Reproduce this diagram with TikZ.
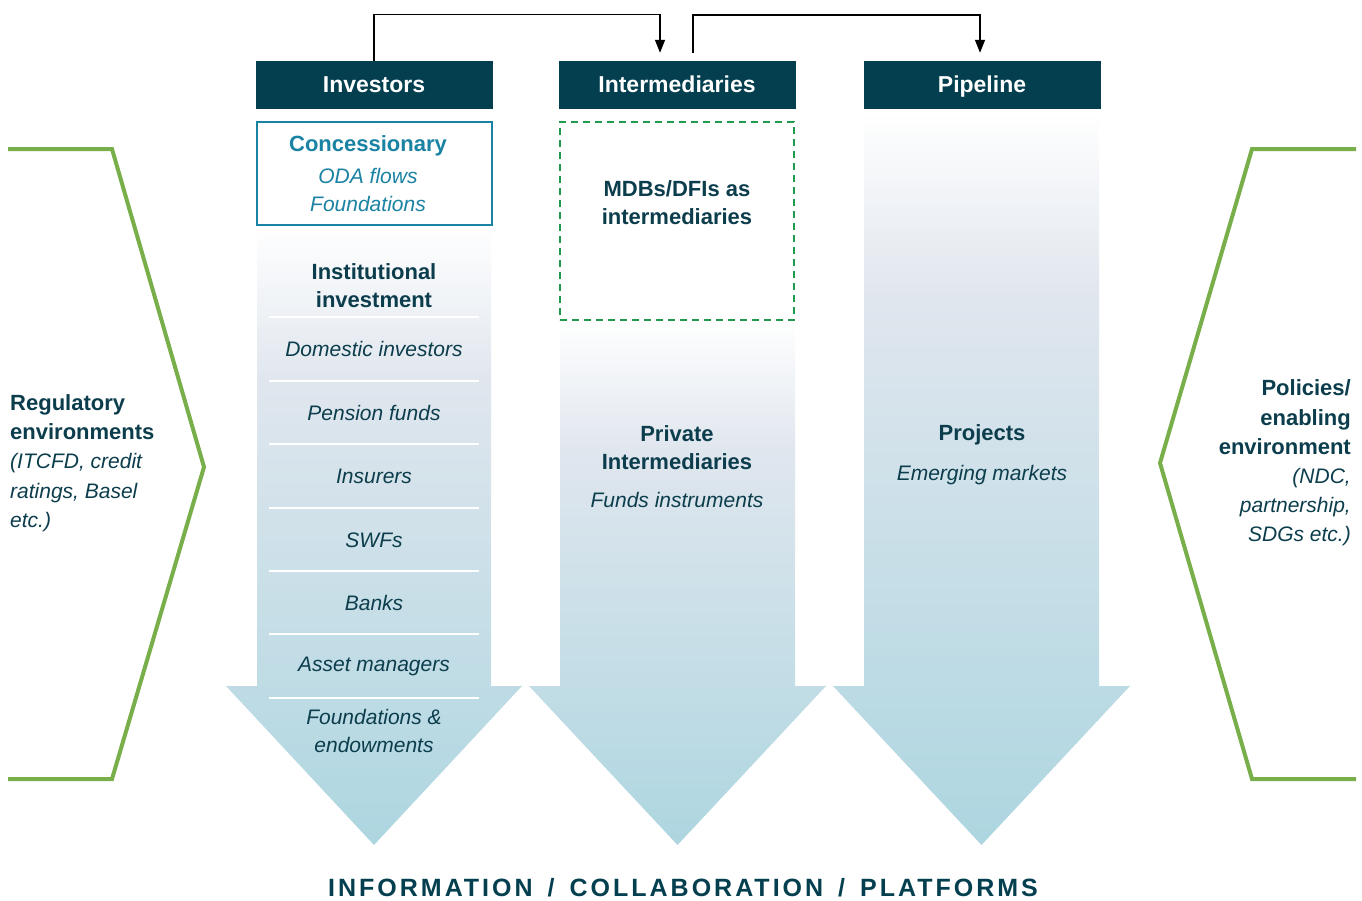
\documentclass[tikz,border=0pt]{standalone}
\usepackage{fontspec}
\setmainfont{Liberation Sans}
\usetikzlibrary{arrows.meta}
\definecolor{hdrcol}{HTML}{033F4F}
\definecolor{txtcol}{HTML}{0C3D4C}
\definecolor{tealcol}{HTML}{1A82A2}
\definecolor{dashgreen}{HTML}{1E9B4D}
\definecolor{brgreen}{HTML}{79AF4B}
\definecolor{arrowblue}{HTML}{ADD6E0}
\definecolor{midblue}{HTML}{E0E6EE}
\newcommand\myB{\bfseries}
\newcommand\myI{\fontsize{21}{28}\selectfont\itshape}
\newcommand\colarrow[4]{% x-left body, x-right body, start y, mid y
  \begin{scope}
    \clip (#1,#3) -- (#2,#3) -- (#2,686) -- ({#2+31},686) -- ({(#1+#2)/2},845) -- ({#1-31},686) -- (#1,686) -- cycle;
    \shade[top color=white, bottom color=midblue, draw=none] ({#1-40},{#3-1}) rectangle ({#2+40},#4);
    \shade[top color=midblue, bottom color=arrowblue, draw=none] ({#1-40},{#4-0.5}) rectangle ({#2+40},846);
  \end{scope}}
\tikzset{
  hdr/.style={fill=hdrcol, text=white, minimum width=237pt, minimum height=48pt, inner sep=0pt, text height=19pt, text depth=4.5pt, font=\fontsize{23}{28}\selectfont\bfseries},
  sepline/.style={draw=white, line width=1.3pt},
  lbl/.style={text=txtcol, align=center, inner sep=0pt, font=\fontsize{22}{28}\selectfont},
  sidelbl/.style={text=txtcol, inner sep=0pt, font=\fontsize{22}{29.2}\selectfont},
  conn/.style={draw=black, line width=1.3pt, -{Triangle[length=13pt,width=10pt]}},
  bracket/.style={draw=brgreen, line width=4pt, line join=miter}
}
\begin{document}
\begin{tikzpicture}[x=1pt,y=-1pt]
\useasboundingbox (0,0) rectangle (1362,900);
% big arrows
\colarrow{257}{491}{226}{381}
\colarrow{560}{795}{320}{451}
\colarrow{864}{1099}{113}{296}
% headers
\node[hdr] (inv) at (374,85) {Investors};
\node[hdr] (intm) at (677,85) {Intermediaries};
\node[hdr] (pipe) at (982,85) {Pipeline};
% connectors
\coordinate (c1) at ([xshift=-17pt,yshift=8pt]intm.north);
\coordinate (c2s) at ([xshift=16pt,yshift=8pt]intm.north);
\coordinate (c2) at ([xshift=-2pt,yshift=8pt]pipe.north);
\draw[conn] (inv.north) -- ++(0,-46) -| (c1);
\draw[conn] (c2s) -- (c2s |- 0,15) -| (c2);
% concessionary box
\node[draw=tealcol, line width=2pt, fill=white, minimum width=235pt, minimum height=103pt, inner sep=0pt] (conc) at (374,173) {};
\node[lbl, text=tealcol] (conct) at (368,174) {{\myB Concessionary}\\[4pt]{\myI ODA flows}\\{\myI Foundations}};
% dashed box
\node[draw=dashgreen, line width=2pt, dash pattern=on 7pt off 5pt, fill=white, minimum width=234pt, minimum height=198pt, inner sep=0pt] (mdb) at (677,221) {};
\node[lbl] (mdbt) at (677,203) {{\myB MDBs/DFIs as}\\{\myB intermediaries}};
% investor column
\node[lbl] (inst) at (374,286) {{\myB Institutional}\\{\myB investment}};
\draw[sepline] (269,317) -- (479,317);
\node[lbl] (dom) at (374,349) {\myI Domestic investors};
\draw[sepline] (269,381) -- (479,381);
\node[lbl] (pen) at (374,413) {\myI Pension funds};
\draw[sepline] (269,444) -- (479,444);
\node[lbl] (ins) at (374,476) {\myI Insurers};
\draw[sepline] (269,508) -- (479,508);
\node[lbl] (swf) at (374,540) {\myI SWFs};
\draw[sepline] (269,571) -- (479,571);
\node[lbl] (bank) at (374,603) {\myI Banks};
\draw[sepline] (269,634) -- (479,634);
\node[lbl] (am) at (374,666) {\myI Asset managers};
\draw[sepline] (269,698) -- (479,698);
\node[lbl] (fe) at (374,731) {{\myI Foundations \&}\\{\myI endowments}};
% middle column
\node[lbl] (pi) at (677,448) {{\myB Private}\\{\myB Intermediaries}};
\node[lbl] (fi) at (677,500) {\myI Funds instruments};
% pipeline column
\node[lbl] (proj) at (982,435) {\myB Projects};
\node[lbl] (em) at (982,475) {\myI Emerging markets};
% brackets
\draw[bracket] (8,149) -- (112,149) -- (204,467) -- (112,779) -- (8,779);
\draw[bracket] (1356,149) -- (1252,149) -- (1160,463) -- (1252,779) -- (1356,779);
\node[sidelbl, align=left, anchor=west] (reg) at (10,463) {{\myB Regulatory}\\{\myB environments}\\{\myI (ITCFD, credit}\\{\myI ratings, Basel}\\{\myI etc.)}};
\node[sidelbl, align=right, anchor=east] (pol) at (1351,463) {{\myB Policies/}\\{\myB enabling}\\{\myB environment}\\{\myI (NDC,}\\{\myI partnership,}\\{\myI SDGs etc.)}};
% bottom
\node[text=hdrcol, inner sep=0pt] (bot) at (683,888) {\fontsize{25}{30}\selectfont\bfseries\addfontfeature{LetterSpace=12}INFORMATION\hspace{15pt}/\hspace{15pt}COLLABORATION\hspace{15pt}/\hspace{15pt}PLATFORMS};
\end{tikzpicture}
\end{document}
